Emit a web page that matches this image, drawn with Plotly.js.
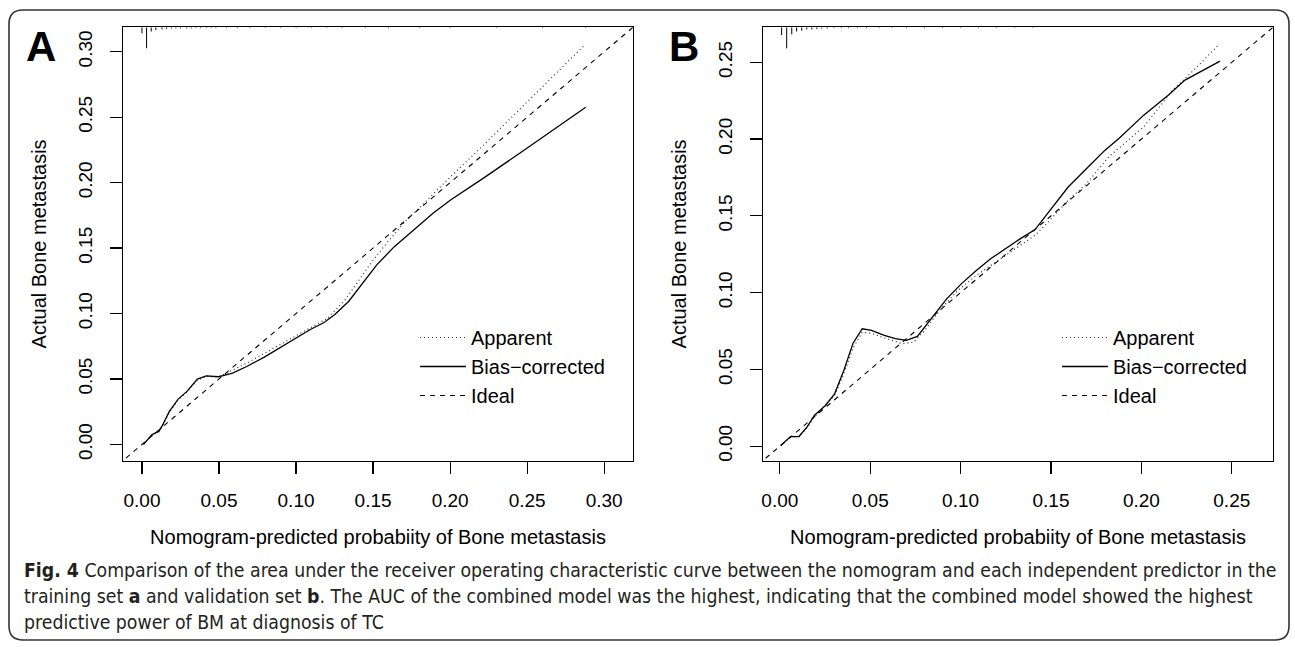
<!DOCTYPE html>
<html>
<head>
<meta charset="utf-8">
<script src="https://cdn.plot.ly/plotly-3.0.1.min.js"></script>
<style>
html,body{margin:0;padding:0;background:#fff;}
#chart{width:1295px;height:647px;}
.annotation-text{font-stretch:condensed;}
</style>
</head>
<body>
<div id="chart"></div>
<script>
// ---------- Data ----------
// Panel A (training set)
const apparentA_x = [0.001,0.0064,0.0109,0.0132,0.0178,0.0235,0.0292,0.036,0.0417,0.0497,0.068,0.0817,0.0954,0.109,0.1206,0.1319,0.141,0.1501,0.1592,0.1707,0.182,0.2003,0.2185,0.2873];
const apparentA_y = [0.000,0.0072,0.0097,0.014,0.0245,0.034,0.040,0.049,0.052,0.0515,0.0621,0.071,0.0799,0.0888,0.0965,0.1105,0.1257,0.141,0.1542,0.1702,0.183,0.2046,0.225,0.3051];
const biasA_x = [0.001,0.0064,0.0109,0.0132,0.0178,0.0235,0.0292,0.036,0.0417,0.0497,0.0588,0.068,0.0794,0.0908,0.0999,0.109,0.1182,0.125,0.1341,0.1433,0.1524,0.1638,0.1775,0.1889,0.2003,0.2231,0.2482,0.2576,0.288];
const biasA_y = [0.000,0.0074,0.0099,0.0143,0.0252,0.0346,0.0405,0.0499,0.0524,0.0517,0.0545,0.0595,0.0667,0.0748,0.0812,0.0876,0.0931,0.099,0.1092,0.1232,0.1372,0.1511,0.1652,0.1766,0.1868,0.2046,0.225,0.2326,0.2576];
// distribution of predicted probabilities (spike histogram at top), relative frequency
const rugA_x = [0.000,0.003,0.006,0.009,0.013,0.016,0.019,0.022,0.025,0.029,0.032,0.035,0.038,0.042,0.045,0.048,0.055,0.062,0.070,0.080,0.090,0.100,0.110,0.120,0.130,0.145,0.160,0.180,0.200,0.230,0.260,0.288];
const rugA_f = [0.29,1,0.2,0.13,0.1,0.07,0.06,0.05,0.05,0.05,0.05,0.04,0.04,0.04,0.04,0.04,0.03,0.03,0.03,0.03,0.03,0.03,0.03,0.03,0.03,0.03,0.03,0.03,0.03,0.03,0.03,0.03];

// Panel B (validation set)
const apparentB_x = [0.0005,0.0059,0.0106,0.015,0.0191,0.0252,0.0303,0.0354,0.0405,0.0456,0.0507,0.0578,0.0679,0.0741,0.0802,0.0883,0.0985,0.1087,0.1209,0.1331,0.1412,0.1493,0.1595,0.1697,0.1819,0.2013,0.2173,0.2309,0.2424];
const apparentB_y = [0.0005,0.006,0.0065,0.012,0.019,0.0265,0.033,0.047,0.064,0.0743,0.0735,0.0705,0.0667,0.0678,0.0754,0.0885,0.1015,0.1113,0.1211,0.1308,0.1373,0.1471,0.1602,0.171,0.1884,0.208,0.2319,0.2471,0.2611];
const biasB_x = [0.0005,0.0059,0.0106,0.015,0.0191,0.0252,0.0303,0.0354,0.0405,0.0456,0.0507,0.0578,0.0639,0.07,0.0761,0.0842,0.0924,0.1005,0.1087,0.1168,0.1249,0.1331,0.1412,0.1493,0.1595,0.1697,0.1799,0.1877,0.2013,0.215,0.2241,0.2435];
const biasB_y = [0.0005,0.0063,0.0063,0.0124,0.02,0.0265,0.0341,0.0493,0.0671,0.0765,0.0754,0.0722,0.07,0.0689,0.0715,0.0841,0.0961,0.1059,0.1145,0.1222,0.1287,0.1352,0.1411,0.1537,0.1688,0.1808,0.1928,0.2006,0.2156,0.2287,0.2384,0.2508];
const rugB_x = [0.001,0.0038,0.0066,0.0093,0.0121,0.0149,0.0177,0.0205,0.0232,0.0262,0.030,0.034,0.038,0.043,0.048,0.055,0.062,0.070,0.080,0.090,0.100,0.110,0.120,0.130,0.140];
const rugB_f = [0.37,1,0.33,0.2,0.16,0.1,0.1,0.08,0.06,0.06,0.04,0.04,0.04,0.04,0.04,0.03,0.03,0.03,0.03,0.03,0.03,0.03,0.03,0.03,0.03];

// Ideal reference line y = x
const ideal_x = [-0.05, 0.40];
const ideal_y = [-0.05, 0.40];

// Axis ranges and ticks
const rangeA = [-0.0123, 0.3187];
const rangeB = [-0.0093, 0.2728];
const ticksA = [0, 0.05, 0.10, 0.15, 0.20, 0.25, 0.30];
const tickTextA = ["0.00","0.05","0.10","0.15","0.20","0.25","0.30"];
const ticksB = [0, 0.05, 0.10, 0.15, 0.20, 0.25];
const tickTextB = ["0.00","0.05","0.10","0.15","0.20","0.25"];

const seriesNames = ["Apparent", "Bias\u2212corrected", "Ideal"];
const xTitle = "Nomogram-predicted probabiity of Bone metastasis";
const yTitle = "Actual Bone metastasis";
const captionLines = [
  "<b>Fig. 4</b> Comparison of the area under the receiver operating characteristic curve between the nomogram and each independent predictor in the",
  "training set <b>a</b> and validation set <b>b</b>. The AUC of the combined model was the highest, indicating that the combined model showed the highest",
  "predictive power of BM at diagnosis of TC"
];

// ---------- Build ----------
const W = 1295, H = 647;
const PX = x => x / W;
const PY = y => 1 - y / H;
const FONT = "Liberation Sans, Arial, sans-serif";

function rugTrace(xs, fs, top, maxLen, xa, ya) {
  const x = [], y = [];
  xs.forEach((v, i) => { x.push(v, v, null); y.push(top, top - fs[i] * maxLen, null); });
  return {x, y, xaxis: xa, yaxis: ya, mode: "lines", line: {color: "#000", width: 1}, showlegend: false, hoverinfo: "skip"};
}

const dotStyle = {color: "#333", width: 1.2, dash: "1px,3px"};
const solidStyle = {color: "#000", width: 1.3};
const dashStyle = {color: "#000", width: 1.1, dash: "5px,5px"};

const traces = [
  {x: apparentA_x, y: apparentA_y, xaxis: "x", yaxis: "y", mode: "lines", name: seriesNames[0], line: dotStyle, legend: "legend"},
  {x: biasA_x, y: biasA_y, xaxis: "x", yaxis: "y", mode: "lines", name: seriesNames[1], line: solidStyle, legend: "legend"},
  {x: ideal_x, y: ideal_y, xaxis: "x", yaxis: "y", mode: "lines", name: seriesNames[2], line: dashStyle, legend: "legend"},
  rugTrace(rugA_x, rugA_f, rangeA[1], 0.016, "x", "y"),
  {x: apparentB_x, y: apparentB_y, xaxis: "x2", yaxis: "y2", mode: "lines", name: seriesNames[0], line: dotStyle, legend: "legend2"},
  {x: biasB_x, y: biasB_y, xaxis: "x2", yaxis: "y2", mode: "lines", name: seriesNames[1], line: solidStyle, legend: "legend2"},
  {x: ideal_x, y: ideal_y, xaxis: "x2", yaxis: "y2", mode: "lines", name: seriesNames[2], line: dashStyle, legend: "legend2"},
  rugTrace(rugB_x, rugB_f, rangeB[1], 0.0137, "x2", "y2")
];

function axisBase(range, tv, tt) {
  return {
    range: range, autorange: false, tickmode: "array", tickvals: tv, ticktext: tt,
    showline: true, mirror: true, linecolor: "#000", linewidth: 1.2,
    ticks: "outside", ticklen: 12, tickwidth: 1.2, tickcolor: "#000",
    showgrid: false, zeroline: false, ticklabelstandoff: 10,
    tickfont: {family: FONT, size: 19, color: "#000"}, fixedrange: true
  };
}
const titleFont = {family: FONT, size: 20, color: "#000"};

const yDom = [PY(460.5), PY(27.3)];
const xaxis = Object.assign(axisBase(rangeA, ticksA, tickTextA), {domain: [PX(123), PX(633)], anchor: "y",
  title: {text: xTitle, font: titleFont, standoff: 20}});
const yaxis = Object.assign(axisBase(rangeA, ticksA, tickTextA), {domain: yDom, anchor: "x", tickangle: -90,
  title: {text: yTitle, font: titleFont, standoff: 23}});
const xaxis2 = Object.assign(axisBase(rangeB, ticksB, tickTextB), {domain: [PX(763), PX(1273)], anchor: "y2",
  title: {text: xTitle, font: titleFont, standoff: 20}});
const yaxis2 = Object.assign(axisBase(rangeB, ticksB, tickTextB), {domain: yDom, anchor: "x2", tickangle: -90,
  title: {text: yTitle, font: titleFont, standoff: 23}});

function legendAt(xpx) {
  return {x: PX(xpx), y: PY(318), xanchor: "left", yanchor: "top", bgcolor: "rgba(0,0,0,0)",
    borderwidth: 0, font: {family: FONT, size: 20, color: "#000"}, itemwidth: 46, tracegroupgap: 0, traceorder: "normal"};
}

// rounded outer frame (paper coordinates)
const fx0 = 9, fy0 = 10, fx1 = 1289, fy1 = 640, r = 14;
const framePath = [
  "M", PX(fx0 + r), PY(fy0),
  "L", PX(fx1 - r), PY(fy0),
  "Q", PX(fx1), PY(fy0), PX(fx1), PY(fy0 + r),
  "L", PX(fx1), PY(fy1 - r),
  "Q", PX(fx1), PY(fy1), PX(fx1 - r), PY(fy1),
  "L", PX(fx0 + r), PY(fy1),
  "Q", PX(fx0), PY(fy1), PX(fx0), PY(fy1 - r),
  "L", PX(fx0), PY(fy0 + r),
  "Q", PX(fx0), PY(fy0), PX(fx0 + r), PY(fy0), "Z"
].join(" ");

const CAPFONT = "DejaVu Sans, sans-serif";
const captionY = [570, 596, 622];
const panelLetters = [
  {text: "<b>A</b>", x: PX(41), y: PY(46), xref: "paper", yref: "paper", xanchor: "center", yanchor: "middle", showarrow: false, font: {family: FONT, size: 42, color: "#000"}},
  {text: "<b>B</b>", x: PX(684), y: PY(46), xref: "paper", yref: "paper", xanchor: "center", yanchor: "middle", showarrow: false, font: {family: FONT, size: 42, color: "#000"}}
];
const captionAnn = captionLines.map((t, i) => ({
  text: t, x: PX(22), y: PY(captionY[i]), xref: "paper", yref: "paper", xanchor: "left", yanchor: "middle",
  align: "left", showarrow: false, font: {family: CAPFONT, size: 19, color: "#231f20"}
}));

const layout = {
  width: W, height: H, margin: {l: 0, r: 0, t: 0, b: 0},
  paper_bgcolor: "#fff", plot_bgcolor: "#fff", showlegend: true,
  xaxis, yaxis, xaxis2, yaxis2,
  legend: legendAt(415), legend2: legendAt(1057),
  annotations: panelLetters.concat(captionAnn),
  shapes: [{type: "path", path: framePath, xref: "paper", yref: "paper", line: {color: "#333", width: 1.6}, fillcolor: "rgba(0,0,0,0)"}]
};

Plotly.newPlot("chart", traces, layout, {staticPlot: true, displayModeBar: false}).then(gd => {
  // fit caption line 1 to its width in the reference (x 22 -> 1275)
  const nodes = gd.querySelectorAll("g.annotation");
  const first = nodes[panelLetters.length];
  if (!first) return;
  const t = first.querySelector("text.annotation-text");
  if (!t) return;
  const w = t.getBBox().width;
  if (w > 0) {
    const size = 19 * 1253 / w;
    const upd = {};
    captionAnn.forEach((a, i) => { upd["annotations[" + (panelLetters.length + i) + "].font.size"] = size; });
    return Plotly.relayout(gd, upd);
  }
});
</script>
</body>
</html>
